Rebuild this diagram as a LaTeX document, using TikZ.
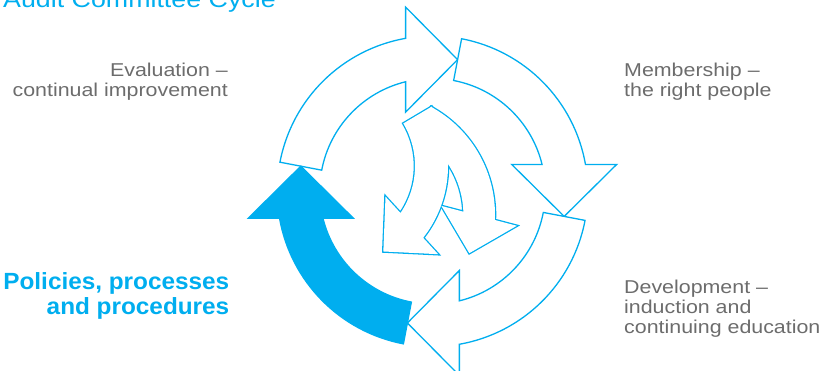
\documentclass[tikz,border=0pt]{standalone}
\usepackage{fontspec}
\setmainfont{Liberation Sans}
\newfontfamily\labfont[FakeStretch=1.15]{Liberation Sans}
\newfontfamily\boldlabfont[FakeStretch=1.04]{Liberation Sans}
\definecolor{kblue}{RGB}{0,174,239}
\definecolor{kgrey}{RGB}{108,108,108}
\tikzset{
  ringarrow/.pic={
    \path[pic actions] (-169.2:112.8) -- (-169.2:155.3)
      arc[start angle=-169.2, end angle=-99.97, radius=155.3]
      -- (-26.88,-184.18) -- (25.12,-131.68) -- (-26.88,-79.18)
      -- (-26.88,-109.55)
      arc[start angle=-103.79, end angle=-169.2, radius=112.8] -- cycle;
  },
  outlinearrow/.style={draw=kblue, fill=white, line width=1.3pt, line join=miter},
  solidarrow/.style={draw=kblue, fill=kblue, line width=1.3pt, line join=miter},
  greylabel/.style={inner sep=0pt, text=kgrey, font=\labfont\fontsize{18.6}{20}\selectfont},
  bluelabel/.style={inner sep=0pt, text=kblue, font=\boldlabfont\bfseries\fontsize{23.4}{25}\selectfont},
  titlelabel/.style={inner sep=0pt, text=kblue, font=\labfont\fontsize{23.3}{25}\selectfont},
}
\begin{document}
\begin{tikzpicture}[x=1pt, y=-1pt]
\useasboundingbox (0,0) rectangle (828,371);
\clip (0,0) rectangle (828,371);

% title (cut off at the top)
\node[titlelabel, anchor=base west] (title) at (3,7.3) {Audit Committee Cycle};

% four ring arrows around the centre
\coordinate (C) at (432.5,191.3);
\pic[outlinearrow] (top) at (C) {ringarrow};
\pic[outlinearrow, rotate=-90] (right) at (C) {ringarrow};
\pic[outlinearrow, rotate=180] (bottom) at (C) {ringarrow};
\pic[solidarrow, rotate=90] (left) at (C) {ringarrow};

% inner pair of arrows, drawn as one merged outline
\path[draw=kblue, line width=2.6pt, line join=miter]
  (431.71,106.62) arc[start angle=-30.7, end angle=38.15, radius=116.3]
  -- (438.15,254.2) -- (383.34,251.48) -- (385.51,196.64) -- (400.47,213.0)
  arc[start angle=34.36, end angle=-30.7, radius=83.3] -- cycle;
\path[draw=kblue, line width=2.6pt, line join=miter]
  (431.02,106.83) arc[start angle=-61.3, end angle=2.42, radius=123.1]
  -- (516.83,225.78) -- (469.3,253.18) -- (441.41,205.92) -- (463.35,211.7)
  arc[start angle=-1.94, end angle=-61.3, radius=91.5] -- cycle;
\path[fill=white]
  (431.71,106.62) arc[start angle=-30.7, end angle=38.15, radius=116.3]
  -- (438.15,254.2) -- (383.34,251.48) -- (385.51,196.64) -- (400.47,213.0)
  arc[start angle=34.36, end angle=-30.7, radius=83.3] -- cycle;
\path[fill=white]
  (431.02,106.83) arc[start angle=-61.3, end angle=2.42, radius=123.1]
  -- (516.83,225.78) -- (469.3,253.18) -- (441.41,205.92) -- (463.35,211.7)
  arc[start angle=-1.94, end angle=-61.3, radius=91.5] -- cycle;

% labels
\node[greylabel, anchor=base east] (eval1) at (228,76.3) {Evaluation –};
\node[greylabel, anchor=base east] (eval2) at (228,96.3) {continual improvement};
\node[greylabel, anchor=base west] (memb1) at (624,76.3) {Membership –};
\node[greylabel, anchor=base west] (memb2) at (624,96.3) {the right people};
\node[greylabel, anchor=base west] (dev1) at (624,294) {Development –};
\node[greylabel, anchor=base west] (dev2) at (624,313.7) {induction and};
\node[greylabel, anchor=base west] (dev3) at (624,333.4) {continuing education};
\node[bluelabel, anchor=base east] (pol1) at (229.5,289.5) {Policies, processes};
\node[bluelabel, anchor=base east] (pol2) at (229.5,315) {and procedures};
\end{tikzpicture}
\end{document}
